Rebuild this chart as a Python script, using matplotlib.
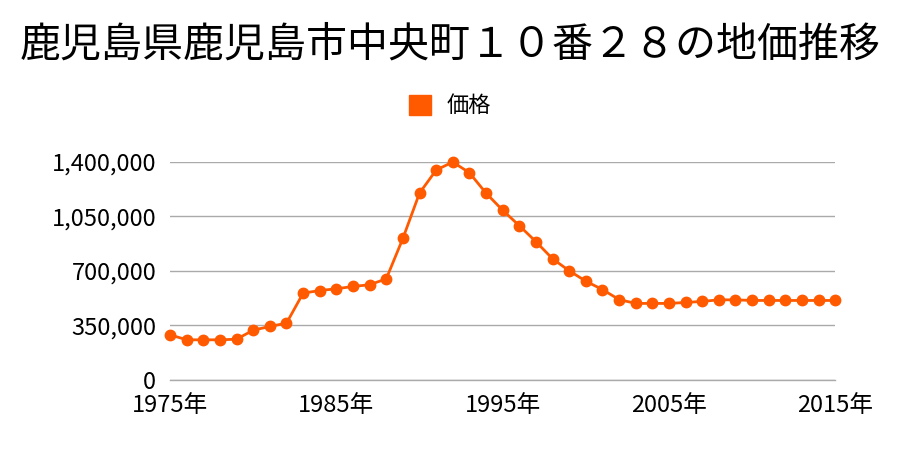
import matplotlib
matplotlib.use("Agg")
import matplotlib.pyplot as plt
from matplotlib.ticker import FuncFormatter

plt.rcParams['font.family'] = ['Noto Sans CJK JP', 'DejaVu Sans']

years = list(range(1975, 2016))
prices = [289000, 257000, 257000, 257000, 261000, 319000, 343000, 364000,
          557000, 574000, 585000, 600000, 611000, 649000, 909000, 1200000,
          1348000, 1400000, 1331000, 1200000, 1090000, 991000, 888000, 778000,
          701000, 634000, 580000, 516000, 491000, 491000, 491000, 497000,
          504000, 514000, 514000, 510000, 510000, 510000, 510000, 510000, 510000]
yticks = [0, 350000, 700000, 1050000, 1400000]
xticks = [1975, 1985, 1995, 2005, 2015]
color = '#FF5A00'

fig = plt.figure(figsize=(9, 4.5), dpi=100)
ax = fig.add_axes([0.189, 0.156, 0.739, 0.484])

ax.plot(years, prices, color=color, linewidth=2, marker='o', markersize=7.5,
        label='価格', zorder=3, clip_on=False)

ax.set_xlim(1975, 2015)
ax.set_ylim(0, 1400000)
ax.set_yticks(yticks)
ax.set_xticks(xticks)
ax.yaxis.set_major_formatter(FuncFormatter(lambda v, p: f"{int(v):,}"))
ax.set_xticklabels([f"{y}年" for y in xticks])
ax.grid(axis='y', color='#aaaaaa', linewidth=1)
ax.axhline(0, color='#aaaaaa', linewidth=1, zorder=1, clip_on=False)
ax.set_axisbelow(True)
for s in ax.spines.values():
    s.set_visible(False)
ax.tick_params(length=0, labelsize=17)
ax.tick_params(axis='y', pad=10)
ax.tick_params(axis='x', pad=10)

fig.text(0.5, 0.9, '鹿児島県鹿児島市中央町１０番２８の地価推移', ha='center',
         va='center', fontsize=29.5)
leg = fig.legend(loc='center', bbox_to_anchor=(0.5, 0.765), frameon=False,
                 handlelength=1, handleheight=1, fontsize=16,
                 handletextpad=0.7,
                 handles=[plt.Rectangle((0, 0), 1, 1, color=color)],
                 labels=['価格'])

fig.savefig('out.png', dpi=100)
